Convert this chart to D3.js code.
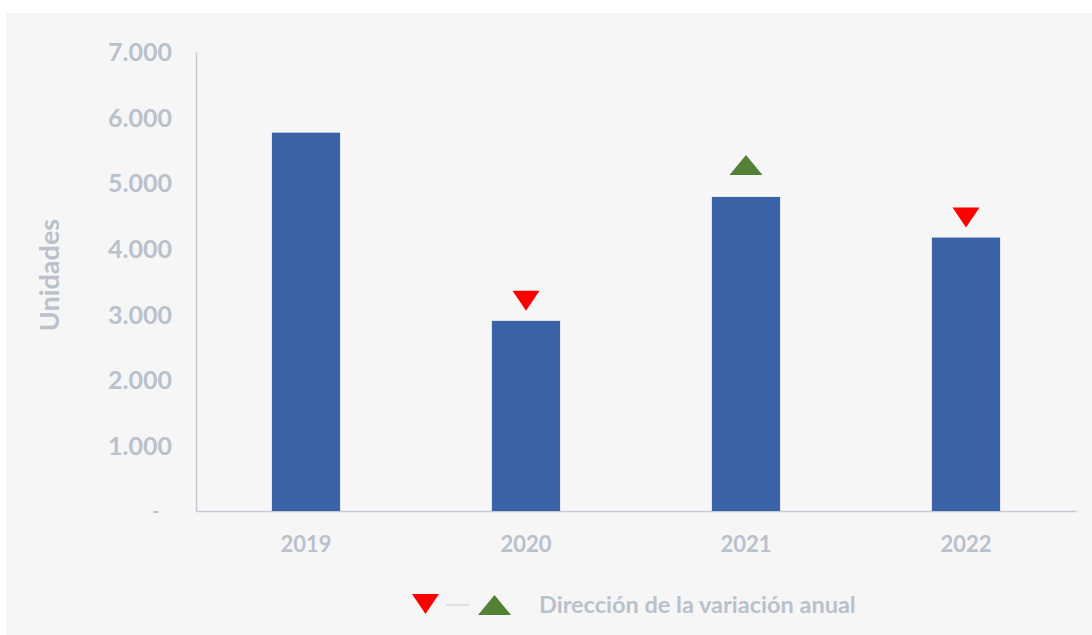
<!DOCTYPE html>
<html lang="es">
<head>
<meta charset="utf-8">
<title>Unidades por año</title>
<script src="https://cdn.jsdelivr.net/npm/d3@7"></script>
<style>
  body { margin: 0; background: #ffffff; }
  text { font-family: Lato, "Open Sans", sans-serif; font-weight: 700; fill: #b9c1cc; }
</style>
</head>
<body>
<div id="chart"></div>
<script>
// data
const years = ["2019", "2020", "2021", "2022"];
const units = [5770, 2900, 4790, 4170];
const direction = [null, "down", "up", "down"];   // direccion de la variacion anual
const yTicks = [0, 1000, 2000, 3000, 4000, 5000, 6000, 7000];
const legendText = "Dirección de la variación anual";

const w = 1092, h = 635;
const plotLeft = 196, plotRight = 1076, plotTop = 52, plotBottom = 511;

const svg = d3.select("#chart").append("svg")
  .attr("width", w)
  .attr("height", h);

// panel background
svg.append("rect")
  .attr("x", 6).attr("y", 13)
  .attr("width", w - 6).attr("height", h - 13)
  .attr("fill", "#f6f6f6");

const x = d3.scaleBand()
  .domain(years)
  .range([plotLeft, plotRight])
  .paddingInner(0.69)
  .paddingOuter(0.345);

const y = d3.scaleLinear()
  .domain([0, 7000])
  .range([plotBottom, plotTop]);

const fmt = d => d === 0 ? "-" : d3.format(",")(d).replace(/,/g, ".");

// y axis
const yAxis = svg.append("g")
  .attr("transform", "translate(" + plotLeft + ",0)")
  .call(d3.axisLeft(y).tickValues(yTicks).tickFormat(fmt).tickSize(0).tickPadding(24));
yAxis.select(".domain").attr("stroke", "#c3cad5").attr("stroke-width", 1.5);
yAxis.selectAll("text").style("font-size", "25px").attr("dy", "0.35em");
yAxis.selectAll(".tick").filter(d => d === 0).select("text")
  .attr("x", -37).style("font-size", "18px");

// x axis
const xAxis = svg.append("g")
  .attr("transform", "translate(0," + plotBottom + ")")
  .call(d3.axisBottom(x).tickSize(0).tickPadding(25));
xAxis.select(".domain").attr("stroke", "#c3cad5").attr("stroke-width", 1.5);
xAxis.selectAll("text").style("font-size", "22px");

// bars
svg.append("g").selectAll("rect")
  .data(years)
  .join("rect")
  .attr("x", d => x(d))
  .attr("y", (d, i) => y(units[i]))
  .attr("width", x.bandwidth())
  .attr("height", (d, i) => plotBottom - y(units[i]))
  .attr("fill", "#3a62a7");

// direction markers
const downTri = (cx, yb) => "M" + (cx - 13.5) + "," + (yb - 20) + "L" + (cx + 13.5) + "," + (yb - 20) + "L" + cx + "," + yb + "Z";
const upTri = (cx, yb) => "M" + (cx - 16.5) + "," + yb + "L" + (cx + 16.5) + "," + yb + "L" + cx + "," + (yb - 20) + "Z";

svg.append("g").selectAll("path")
  .data(years.map((d, i) => ({ year: d, v: units[i], dir: direction[i] })).filter(d => d.dir))
  .join("path")
  .attr("d", d => {
    const cx = x(d.year) + x.bandwidth() / 2;
    return d.dir === "up" ? upTri(cx, y(d.v) - 22) : downTri(cx, y(d.v) - 10);
  })
  .attr("fill", d => d.dir === "up" ? "#538135" : "#ff0000");

// y title
svg.append("text")
  .attr("transform", "translate(59,275) rotate(-90)")
  .attr("text-anchor", "middle")
  .style("font-size", "27px")
  .text("Unidades");

// legend
const lg = svg.append("g").attr("transform", "translate(0,605)");
lg.append("path").attr("d", downTri(425.5, 9)).attr("fill", "#ff0000");
lg.append("line").attr("x1", 446).attr("x2", 469).attr("y1", 0).attr("y2", 0)
  .attr("stroke", "#c3cad5").attr("stroke-width", 1);
lg.append("path").attr("d", upTri(494.5, 10)).attr("fill", "#538135");
lg.append("text").attr("x", 539).attr("y", 8)
  .style("font-size", "23.5px")
  .text(legendText);
</script>
</body>
</html>
